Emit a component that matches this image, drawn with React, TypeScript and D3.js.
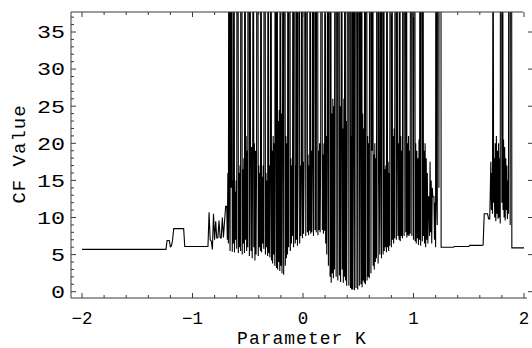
import React, { useRef, useEffect } from 'react'
import * as d3 from 'd3'

// CF value against the parameter K. The curve was sampled on a coarse grid
// where it is flat and on a finer grid where it oscillates.

// K = -2.00 .. -0.70, step 0.01
const LEFT_START = -2
const LEFT_STEP = 0.01
const cfLeft: number[] = [
  5.7, 5.7, 5.7, 5.7, 5.7, 5.7, 5.7, 5.7, 5.7, 5.7,
  5.7, 5.7, 5.7, 5.7, 5.7, 5.7, 5.7, 5.7, 5.7, 5.7,
  5.7, 5.7, 5.7, 5.7, 5.7, 5.7, 5.7, 5.7, 5.7, 5.7,
  5.7, 5.7, 5.7, 5.7, 5.7, 5.7, 5.7, 5.7, 5.7, 5.7,
  5.7, 5.7, 5.7, 5.7, 5.7, 5.7, 5.7, 5.7, 5.7, 5.7,
  5.7, 5.7, 5.7, 5.7, 5.7, 5.7, 5.7, 5.7, 5.7, 5.7,
  5.7, 5.7, 5.7, 5.7, 5.7, 5.7, 5.7, 5.7, 5.7, 5.7,
  5.7, 5.7, 5.7, 5.7, 5.7, 5.7, 5.7,
  6.9, 6.9, 6.9, 6.0, 6.2, 7.0,
  8.5, 8.5, 8.5, 8.5, 8.5, 8.5, 8.5, 8.5, 8.5, 8.5,
  6.1, 6.1, 6.1, 6.1, 6.1, 6.1, 6.1, 6.1, 6.1, 6.1, 6.1,
  6.1, 6.1, 6.1, 6.1, 6.1, 6.1, 6.1, 6.1, 6.1, 6.1, 6.1,
  10.7, 7.0, 6.8, 5.7, 10.5, 7.0, 9.5, 7.2, 7.3, 9.6, 7.3, 7.2, 10, 7.3, 9.5, 11.5,
]

// K = -0.690 .. 1.245, step 0.005
const MID_START = -0.69
const MID_STEP = 0.005
const cfMiddle: number[] = [
  11.5, 7.0, 16, 6.5, 90, 12, 5.5, 100, 14, 80,
  5.4, 15, 6.5, 85, 5.3, 13.5, 7, 15, 5.8, 95,
  110, 5.2, 16, 6, 17, 5.5, 120, 90, 5.0, 16.5,
  6.5, 18, 5.2, 100, 7, 21, 5.5, 19, 6.0, 130,
  95, 4.8, 85, 20, 5.5, 19.5, 4.5, 21, 90, 6,
  20, 4.2, 19, 5.0, 18, 110, 100, 4.8, 17, 6,
  16, 5.5, 90, 5.3, 15.5, 6.5, 17, 5.8, 100, 120,
  5.0, 16, 6, 15, 4.8, 95, 5.2, 17, 4.6, 16.5,
  85, 4.2, 19, 3.8, 21, 5, 20, 3.5, 110, 22,
  3.2, 100, 3.0, 23, 4, 24.5, 2.8, 120, 3.5, 24,
  2.5, 22, 95, 2.3, 110, 90, 3.5, 21, 4.5, 20,
  5.0, 100, 6.0, 130, 95, 5.5, 18, 6.5, 17, 7.5,
  85, 6.0, 110, 100, 6.5, 17, 7.0, 90, 6.2, 16.5,
  95, 120, 6.5, 17, 7.5, 16, 100, 7.2, 17.5, 7.8,
  18, 110, 90, 7.5, 100, 115, 8.0, 18.5, 7.6, 17,
  8.2, 95, 7.8, 19, 8.0, 18, 120, 7.5, 110, 130,
  8.3, 100, 8.0, 90, 115, 7.6, 19, 8.3, 20, 8.0,
  19, 100, 110, 8.3, 18.5, 7.8, 20, 8.2, 95, 6.5,
  21, 5.0, 22, 100, 3.5, 120, 110, 2.0, 90, 1.2,
  24, 2.5, 26, 1.8, 25, 3.0, 100, 130, 2.0, 110,
  95, 1.5, 120, 90, 2.2, 25, 1.3, 24, 100, 3.0,
  22, 1.2, 26, 2.0, 110, 1.5, 23, 0.8, 21, 100,
  120, 0.8, 95, 110, 0.5, 21, 0.3, 150, 0.3, 22,
  100, 0.2, 130, 110, 0.5, 120, 90, 0.3, 100, 115,
  0.8, 95, 23, 1.0, 110, 0.6, 24, 1.5, 22, 1.2,
  100, 1.0, 120, 95, 1.5, 21, 2.0, 20, 1.8, 90,
  110, 2.5, 100, 19, 130, 3.5, 18.5, 3.0, 20, 4.0,
  18, 4.5, 100, 120, 3.8, 95, 17, 5.0, 18, 110,
  4.5, 90, 120, 5.0, 100, 5.5, 16.5, 6.0, 17, 5.3,
  95, 6.0, 17.5, 5.5, 16, 6.2, 110, 100, 6.0, 90,
  7.0, 21, 6.5, 22, 7.2, 100, 120, 7.0, 95, 21,
  7.5, 20, 7.0, 110, 6.8, 21, 7.5, 19, 7.2, 90,
  120, 7.5, 100, 95, 8.0, 110, 7.3, 20, 7.6, 21,
  7.5, 19, 7.8, 100, 120, 7.5, 90, 110, 7.0, 95,
  100, 6.8, 20, 6.5, 19, 7.2, 18, 6.3, 20.5, 7.0,
  110, 6.2, 95, 120, 6.8, 100, 7.5, 19, 6.5, 20,
  6.0, 18, 7.0, 16, 6.5, 12.8, 12.8, 7.5, 17.5, 8.0,
  15, 6.5, 14, 12.8, 12.8, 12.8, 7.0, 12, 6.0, 150,
  12, 9, 130, 120, 14, 150, 110, 160,
]

// K = 1.25 .. 1.69, step 0.01
const PLATEAU_START = 1.25
const PLATEAU_STEP = 0.01
const cfPlateau: number[] = [
  6.0, 6.0, 6.0, 6.0, 6.0, 6.0, 6.0, 6.0, 6.0, 6.0, 6.0, 6.0,
  6.1, 6.1, 6.1, 6.1, 6.1, 6.1, 6.1, 6.1, 6.1, 6.1, 6.1, 6.1, 6.1, 6.1,
  6.25, 6.25, 6.25, 6.25, 6.25, 6.25, 6.25, 6.25, 6.25, 6.25, 6.25, 6.25, 6.3,
  10.5, 10.5, 10.5, 10.5, 9.8, 9.8,
]

// K = 1.700 .. 1.885, step 0.005
const BURST_START = 1.7
const BURST_STEP = 0.005
const cfBurst: number[] = [
  17.5, 11, 16, 10.5, 60, 12, 18, 10, 20, 9.5,
  21, 10.5, 19, 9.8, 20, 10, 18, 9.2, 130, 110,
  12, 120, 11, 20.5, 10, 19.5, 9.6, 18, 11, 17,
  9.8, 15, 10.5, 140, 120, 9, 150, 130,
]

// K = 1.89 .. 2.00, step 0.01
const RIGHT_START = 1.89
const RIGHT_STEP = 0.01
const cfRight: number[] = [5.9, 5.9, 5.9, 5.9, 5.9, 5.9, 5.9, 5.9, 5.9, 5.9, 5.9, 5.9]

const xTickValues = [-2, -1, 0, 1, 2]
const xTickLabels = ['\u22122', '\u22121', '0', '1', '2']
const yTickValues = [0, 5, 10, 15, 20, 25, 30, 35]

const width = 532
const height = 348
const left = 71
const right = 528
const top = 12
const bottom = 298
const font = '"Liberation Mono", "DejaVu Sans Mono", monospace'

type Pt = { k: number; cf: number }

export default function App() {
  const container = useRef<SVGGElement>(null)

  useEffect(() => {
    const g = d3.select(container.current)
    g.selectAll('*').remove()

    const segments: [number, number, number[]][] = [
      [LEFT_START, LEFT_STEP, cfLeft],
      [MID_START, MID_STEP, cfMiddle],
      [PLATEAU_START, PLATEAU_STEP, cfPlateau],
      [BURST_START, BURST_STEP, cfBurst],
      [RIGHT_START, RIGHT_STEP, cfRight],
    ]
    const data: Pt[] = []
    segments.forEach(([start, step, values]) => {
      values.forEach((v, i) => data.push({ k: start + i * step, cf: v }))
    })

    const x = d3.scaleLinear().domain([-2, 2]).range([82, 524])
    const y = d3.scaleLinear().domain([0, 35]).range([291.7, 32])

    g.append('clipPath')
      .attr('id', 'plotClip')
      .append('rect')
      .attr('x', left)
      .attr('y', top)
      .attr('width', right - left)
      .attr('height', bottom - top)

    const line = d3
      .line<Pt>()
      .curve(d3.curveLinear)
      .x(d => x(d.k))
      .y(d => y(d.cf))

    g.append('path')
      .datum(data)
      .attr('clip-path', 'url(#plotClip)')
      .attr('d', line)
      .attr('fill', 'none')
      .attr('stroke', '#000')
      .attr('stroke-width', 1.1)
      .attr('stroke-linejoin', 'miter')
      .attr('stroke-miterlimit', 2)

    const frame = '#3a3a3a'

    // frame lines
    g.append('line').attr('x1', left).attr('x2', left).attr('y1', top).attr('y2', bottom).attr('stroke', frame)
    g.append('line').attr('x1', left).attr('x2', 527).attr('y1', bottom).attr('y2', bottom).attr('stroke', frame)
    g.append('line').attr('x1', left).attr('x2', 523).attr('y1', top).attr('y2', top).attr('stroke', frame)

    // x ticks (bottom and top), minor every 0.2
    const xMinor = d3.range(-2, 2.001, 0.2).map(v => Math.round(v * 10) / 10)
    xMinor.forEach(v => {
      const major = Math.abs(v - Math.round(v)) < 1e-6
      const len = major ? 5 : 3
      const px = x(v)
      g.append('line').attr('x1', px).attr('x2', px).attr('y1', bottom).attr('y2', bottom - len).attr('stroke', frame)
      g.append('line').attr('x1', px).attr('x2', px).attr('y1', top).attr('y2', top + len).attr('stroke', frame)
    })

    xTickValues.forEach((v, i) => {
      g.append('text')
        .attr('x', x(v))
        .attr('y', 324)
        .attr('text-anchor', 'middle')
        .attr('font-family', font)
        .attr('font-size', 17.5)
        .attr('fill', '#000')
        .text(xTickLabels[i])
    })

    // y ticks, minor every 1
    d3.range(0, 38).forEach(v => {
      const major = v % 5 === 0
      const len = major ? 5 : 3
      const py = y(v)
      g.append('line').attr('x1', left).attr('x2', left + len).attr('y1', py).attr('y2', py).attr('stroke', frame)
    })
    yTickValues.forEach(v => {
      g.append('line').attr('x1', 528).attr('x2', 533).attr('y1', y(v)).attr('y2', y(v)).attr('stroke', frame)
      // the labels on this axis are drawn a little wider than tall
      g.append('text')
        .attr('transform', `translate(65,${y(v)}) scale(1.3,1)`)
        .attr('dy', '0.35em')
        .attr('text-anchor', 'end')
        .attr('font-family', font)
        .attr('font-size', 18)
        .attr('fill', '#000')
        .text(String(v))
    })

    g.append('text')
      .attr('x', 302)
      .attr('y', 344)
      .attr('text-anchor', 'middle')
      .attr('font-family', font)
      .attr('font-size', 18)
      .attr('letter-spacing', 1)
      .attr('fill', '#000')
      .text('Parameter K')

    g.append('text')
      .attr('transform', 'translate(25,154) rotate(-90)')
      .attr('text-anchor', 'middle')
      .attr('font-family', font)
      .attr('font-size', 19)
      .attr('letter-spacing', 1)
      .attr('fill', '#000')
      .text('CF Value')
  }, [])

  return (
    <svg
      width={width}
      height={height}
      style={{ position: 'absolute', left: 0, top: 0, background: '#fff' }}
    >
      <g ref={container} />
    </svg>
  )
}
